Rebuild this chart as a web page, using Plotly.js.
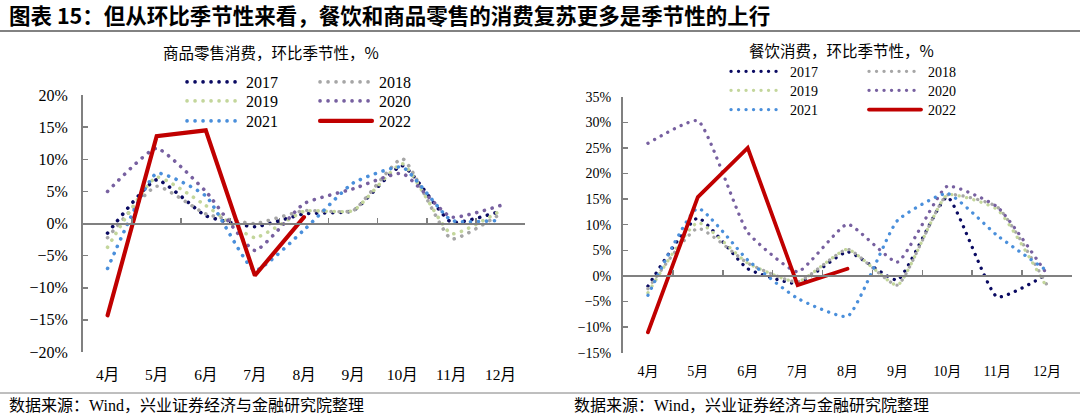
<!DOCTYPE html>
<html><head><meta charset="utf-8">
<script src="https://cdn.plot.ly/plotly-3.0.1.min.js"></script>
<style>
html,body{margin:0;padding:0;background:#fff}
#chart{width:1080px;height:417px}
path.js-line{stroke-linecap:round}
</style>
</head><body><div id="chart"></div>
<script>
// ---- data ----
const months = ['4月','5月','6月','7月','8月','9月','10月','11月','12月'];
const years = ['2017','2018','2019','2020','2021','2022'];

// 商品零售消费，环比季节性（%）
const retail2017 = [-1.5, 6.8, 1.2, -0.5, 1.5, 2.0, 9.0, 0.2, 1.9];
const retail2018 = [-2.2, 5.8, 1.5, 0.0, 2.0, 2.0, 10.1, -2.4, 1.5];
const retail2019 = [-3.7, 7.2, 2.8, -2.2, 1.9, 2.0, 9.3, -1.6, 2.0];
const retail2020 = [5.0, 11.7, 5.0, -4.2, 3.1, 5.4, 7.8, 1.0, 2.8];
const retail2021 = [-7.0, 7.8, 4.3, -7.3, -1.0, 6.3, 8.8, 0.5, 0.5];
const retail2022 = [-14.3, 13.6, 14.5, -8.1, 1.0];

// 餐饮消费，环比季节性（%）
const dining2017 = [-2.0, 11.3, 1.4, -1.5, 4.7, -0.8, 15.4, -4.1, 0.3];
const dining2018 = [-2.5, 9.3, 2.5, -1.2, 5.2, -1.8, 15.8, 13.5, -1.8];
const dining2019 = [-3.3, 10.4, 2.5, -1.2, 5.2, -1.8, 15.8, 13.0, -2.3];
const dining2020 = [25.9, 30.3, 8.5, 0.8, 10.1, 2.7, 17.5, 13.5, 0.3];
const dining2021 = [-3.8, 13.2, 3.1, -4.4, -7.9, 10.8, 16.1, 7.9, 1.0];
const dining2022 = [-11.0, 15.4, 25.0, -1.8, 1.4];

const retailSeries = [retail2017, retail2018, retail2019, retail2020, retail2021, retail2022];
const diningSeries = [dining2017, dining2018, dining2019, dining2020, dining2021, dining2022];

// ---- styles ----
const colors = ['#0A0A62', '#A6A6A6', '#C3D69B', '#7760A0', '#4A8FDB', '#C00000'];
const serif = 'Liberation Serif, Times New Roman, Noto Sans CJK SC, serif';
const cjk = 'Noto Sans CJK SC, sans-serif';
const W = 1080, H = 417;
const px = v => v / W;
const py = v => 1 - v / H;

function mkTraces(series, xa, ya, legendIds, lw, dash) {
  return series.map((vals, i) => {
    const solid = i === years.length - 1;
    return {
      type: 'scatter', mode: 'lines',
      x: months.slice(0, vals.length), y: vals,
      name: years[i], xaxis: xa, yaxis: ya,
      legend: legendIds[Math.floor(i / 2)],
      line: solid ? {color: colors[i], width: lw + 0.5, shape: 'linear'}
                  : {color: colors[i], width: lw, dash: dash, shape: 'spline', smoothing: 0.45},
      hoverinfo: 'skip'
    };
  });
}

const data = [
  ...mkTraces(retailSeries, 'x', 'y', ['legend', 'legend2', 'legend3'], 3.6, '0.1px,7.9px'),
  ...mkTraces(diningSeries, 'x2', 'y2', ['legend4', 'legend5', 'legend6'], 3.3, '0.1px,7.4px')
];

const axisGray = '#808080';
const yDomL = [py(352), py(95)];
const yDomR = [py(352.7), py(96.7)];
const zeroL = yDomL[0] + (yDomL[1] - yDomL[0]) * 0.5;
const zeroR = yDomR[0] + (yDomR[1] - yDomR[0]) * 0.3;

function xAxis(domain, pos, size, standoff) {
  return {
    domain: domain, anchor: 'free', position: pos, type: 'category',
    categoryorder: 'array', categoryarray: months, range: [-0.5, months.length - 0.5],
    showline: true, linecolor: axisGray, linewidth: 2,
    ticks: 'inside', ticklen: 5, tickwidth: 1.5, tickcolor: axisGray, tickson: 'boundaries',
    showgrid: false, zeroline: false, fixedrange: true,
    tickfont: {family: serif, size: size, color: '#000'},
    ticklabelstandoff: standoff
  };
}
function yAxis(domain, anchor, range, size, standoff) {
  return {
    domain: domain, anchor: anchor, range: range, dtick: 5, tick0: 0, ticksuffix: '%',
    showline: true, linecolor: axisGray, linewidth: 2,
    ticks: 'inside', ticklen: 5, tickwidth: 1.5, tickcolor: axisGray,
    showgrid: false, zeroline: false, fixedrange: true,
    tickfont: {family: serif, size: size, color: '#000'},
    ticklabelstandoff: standoff
  };
}
function legendAt(xPx, yPx, size, ew) {
  return {
    x: px(xPx), xanchor: 'left', y: py(yPx), yanchor: 'middle',
    orientation: 'h', entrywidth: ew, entrywidthmode: 'pixels',
    font: {family: serif, size: size, color: '#000'},
    bgcolor: 'rgba(0,0,0,0)', borderwidth: 0, itemclick: false, itemdoubleclick: false,
    tracegroupgap: 0
  };
}

const layout = {
  width: W, height: H,
  margin: {l: 0, r: 0, t: 0, b: 0, autoexpand: false},
  paper_bgcolor: '#fff', plot_bgcolor: 'rgba(0,0,0,0)',
  showlegend: true,
  xaxis: xAxis([px(83), px(525)], zeroL, 15.5, 137),
  yaxis: yAxis(yDomL, 'x', [-20, 20], 16, 10),
  xaxis2: xAxis([px(623), px(1072)], zeroR, 14, 82),
  yaxis2: yAxis(yDomR, 'x2', [-15, 35], 14, 7),
  legend: legendAt(206, 82, 16, 88),
  legend2: legendAt(206, 101, 16, 88),
  legend3: legendAt(206, 121, 16, 88),
  legend4: legendAt(750, 71.7, 14, 93),
  legend5: legendAt(750, 90.7, 14, 93),
  legend6: legendAt(750, 110, 14, 93),
  shapes: [
    {type: 'line', xref: 'paper', yref: 'paper', x0: 0, x1: 1, y0: py(31), y1: py(31), line: {color: '#595959', width: 1.5}},
    {type: 'line', xref: 'paper', yref: 'paper', x0: 0, x1: 1, y0: py(393), y1: py(393), line: {color: '#7f7f7f', width: 1}}
  ],
  annotations: [
    {text: '<b>图表 15：但从环比季节性来看，餐饮和商品零售的消费复苏更多是季节性的上行</b>', xref: 'paper', yref: 'paper',
     x: px(7), y: py(14), xanchor: 'left', yanchor: 'middle', showarrow: false,
     font: {family: cjk, size: 21.5, color: '#000'}},
    {text: '商品零售消费，环比季节性，%', xref: 'paper', yref: 'paper', x: px(270.5), y: py(52),
     xanchor: 'center', yanchor: 'middle', showarrow: false, font: {family: cjk, size: 15.5, color: '#000'}},
    {text: '餐饮消费，环比季节性，%', xref: 'paper', yref: 'paper', x: px(841.5), y: py(50),
     xanchor: 'center', yanchor: 'middle', showarrow: false, font: {family: cjk, size: 15.5, color: '#000'}},
    {text: '数据来源：Wind，兴业证券经济与金融研究院整理', xref: 'paper', yref: 'paper', x: px(7), y: py(405),
     xanchor: 'left', yanchor: 'middle', showarrow: false, font: {family: serif, size: 16, color: '#000'}},
    {text: '数据来源：Wind，兴业证券经济与金融研究院整理', xref: 'paper', yref: 'paper', x: px(572), y: py(405),
     xanchor: 'left', yanchor: 'middle', showarrow: false, font: {family: serif, size: 16, color: '#000'}}
  ]
};

// Longer legend swatches (the reference's are ~52px); the legend clip box would cut them, so drop it.
function stretchLegendSwatches(gd) {
  gd.querySelectorAll('.infolayer [clip-path]').forEach(el => {
    if (el.closest('[class^="legend"]')) el.removeAttribute('clip-path');
  });
  gd.querySelectorAll('.legendlines path').forEach(p => p.setAttribute('d', 'M-19,0h52'));
}
Plotly.newPlot('chart', data, layout, {staticPlot: true, displayModeBar: false}).then(gd => {
  stretchLegendSwatches(gd);
  gd.on('plotly_afterplot', () => stretchLegendSwatches(gd));
});
</script>
</body></html>
